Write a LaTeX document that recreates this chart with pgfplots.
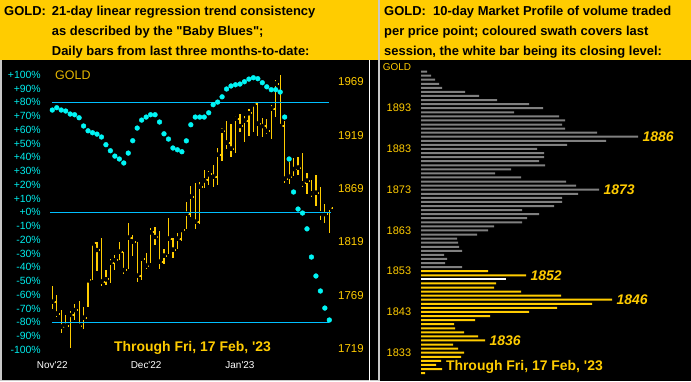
\documentclass[border=0pt]{standalone}
\usepackage{pgfplots}
\pgfplotsset{compat=1.18}
\usepackage{pgfplotstable}
\usepackage{fontspec}
\setmainfont{Liberation Sans}[Ligatures=TeXOff]
\definecolor{hdr}{RGB}{255,204,0}
\definecolor{gold}{RGB}{255,204,0}
\definecolor{goldtxt}{RGB}{230,184,0}
\definecolor{dotc}{RGB}{0,245,245}
\definecolor{linec}{RGB}{0,191,255}
\definecolor{tickc}{RGB}{0,235,235}
\definecolor{mpgray}{RGB}{128,128,128}
\definecolor{frame}{RGB}{200,200,200}
\newcommand{\fs}[1]{\fontsize{#1}{#1}\selectfont}

\pgfplotstableread{
i H L C P
0 1777.7 1756.5 1763.0 74.4
1 1769.3 1749.0 1751.8 76.1
2 1755.2 1734.0 1739.6 74.4
3 1750.6 1738.1 1740.5 73.7
4 1754.3 1719.3 1750.6 71.5
5 1760.9 1745.9 1755.2 71.0
6 1763.7 1739.3 1740.5 68.8
7 1758.1 1737.7 1748.0 62.8
8 1784.3 1758.3 1783.1 59.3
9 1817.8 1783.1 1817.8 57.9
10 1819.3 1792.1 1811.5 56.9
11 1822.5 1778.0 1781.8 54.8
12 1792.7 1778.7 1784.0 49.2
13 1803.1 1780.8 1799.6 44.8
14 1806.8 1792.7 1801.8 40.9
15 1819.0 1802.1 1809.9 38.8
16 1809.9 1789.3 1792.7 35.9
17 1837.1 1793.4 1823.0 43.1
18 1825.6 1805.9 1819.3 52.1
19 1819.3 1781.8 1787.4 61.3
20 1803.7 1783.4 1803.3 67.1
21 1808.4 1793.4 1796.8 69.3
22 1831.8 1799.0 1828.1 71.0
23 1833.3 1816.2 1823.7 71.0
24 1829.3 1793.4 1800.5 65.7
25 1812.2 1798.4 1806.2 57.1
26 1841.2 1807.7 1822.1 53.3
27 1822.5 1804.3 1811.8 46.8
28 1827.2 1812.2 1822.1 45.5
29 1831.8 1819.9 1830.2 44.1
30 1856.2 1830.9 1845.5 52.0
31 1871.5 1842.7 1861.5 63.7
32 1874.6 1830.9 1838.0 69.3
33 1875.2 1835.6 1870.8 69.3
34 1886.5 1869.3 1876.8 69.3
35 1885.3 1872.7 1882.5 72.4
36 1891.2 1870.8 1880.2 78.3
37 1907.1 1872.7 1900.8 80.2
38 1925.9 1895.2 1923.3 84.0
39 1932.4 1906.5 1912.1 89.7
40 1929.6 1899.0 1906.5 91.9
41 1937.4 1902.7 1934.6 92.8
42 1939.0 1922.4 1927.7 93.3
43 1937.1 1913.0 1932.7 95.0
44 1943.7 1918.7 1939.7 96.9
45 1950.0 1921.8 1948.1 97.9
46 1950.0 1918.4 1929.9 97.2
47 1935.5 1917.2 1927.7 94.3
48 1934.3 1920.3 1923.1 91.3
49 1947.4 1915.6 1944.0 89.2
50 1970.9 1936.5 1967.4 89.2
51 1975.6 1926.2 1927.7 87.5
52 1932.2 1874.6 1878.3 69.3
53 1894.3 1873.8 1880.2 38.8
54 1898.0 1881.2 1887.4 14.8
55 1899.0 1881.8 1888.7 2.4
56 1902.2 1870.8 1874.0 -0.5
57 1883.4 1864.0 1876.5 -12.0
58 1877.1 1861.5 1864.7 -32.5
59 1881.8 1853.0 1865.2 -46.3
60 1870.3 1839.6 1845.9 -57.2
61 1854.6 1836.8 1845.2 -69.6
62 1851.5 1827.7 1851.2 -78.3
}\ohlc

\pgfplotstableread{
price vol
1902 6
1901 10
1900 14
1899 18
1898 21
1897 44
1896 58
1895 76
1894 108
1893 122
1892 93
1891 138
1890 144
1889 141
1888 144
1887 176
1886 217
1885 185
1884 146
1883 116
1882 123
1881 123
1880 118
1879 124
1878 90
1877 74
1876 100
1875 145
1874 155
1873 178
1872 157
1871 141
1870 141
1869 133
1868 101
1867 118
1866 106
1865 101
1864 73
1863 67
1862 56
1861 36
1860 37
1859 38
1858 41
1857 23
1856 26
1855 24
1854 41
}\mpg

\pgfplotstableread{
price vol
1853 67
1852 105
1850 75
1849 73
1848 100
1847 140
1846 191
1845 171
1844 136
1843 108
1842 69
1841 54
1840 33
1839 34
1838 43
1837 57
1836 64
1835 32
1834 37
1833 43
1832 40
1831 20
1830 15
1829 21
1828 4
}\mpy

\pgfplotstableread{
price vol
1851 85
}\mpw

\begin{document}
\begin{tikzpicture}[x=1bp,y=1bp]
% backgrounds
\fill[hdr] (0,0) rectangle (691,381);
\fill[black] (0,0) rectangle (378,321);
\fill[black] (380,0) rectangle (691,321);
\fill[frame] (377.5,0) rectangle (380,381);
\draw[frame, line width=1.5bp] (0.75,321) -- (0.75,0.75) -- (377.5,0.75);
\draw[white, line width=1.2bp] (369.5,0) -- (369.5,321);

% headers
\begin{scope}[every node/.style={anchor=base west, inner sep=0pt, font=\fs{13}\bfseries}]
\node at (4,366) {GOLD:};
\node at (51.7,366) {21-day linear regression trend consistency};
\node at (51.7,346) {as described by the "Baby Blues";};
\node at (51.7,326) {Daily bars from last three months-to-date:};
\node at (384,366) {GOLD:\ \ 10-day Market Profile of volume traded};
\node at (384,346) {per price point; coloured swath covers last};
\node at (384,326) {session, the white bar being its closing level:};
\end{scope}

% left chart: price bars
\begin{axis}[at={(44bp,24bp)}, anchor=south west, scale only axis,
  width=291bp, height=297bp,
  xmin=-1.858, xmax=63.27, ymin=1711.2, ymax=1989.6,
  axis x line*=bottom, axis y line*=right,
  axis line style={draw=none}, major tick length=0pt,
  xtick={0,21,42}, xticklabels={Nov'22,Dec'22,Jan'23},
  xticklabel style={text=white, font=\fs{10}, anchor=north, inner sep=0pt, yshift=-4bp},
  ytick={1719,1769,1819,1869,1919,1969},
  yticklabels={1719,1769,1819,1869,1919,1969},
  yticklabel style={text=gold, font=\fs{11.5}, anchor=west, inner sep=0pt, xshift=3bp},
  clip=false]
\addplot[only marks, mark=none, error bars/.cd, y dir=both, y explicit,
  error mark=none, error bar style={draw=gold, line width=1.2bp}]
  table[x=i, y=C, y error plus expr=\thisrow{H}-\thisrow{C}, y error minus expr=\thisrow{C}-\thisrow{L}] {\ohlc};
\addplot[only marks, mark=none, error bars/.cd, x dir=plus, x fixed=0.75,
  error mark=none, error bar style={draw=gold, line width=2bp}]
  table[x=i, y=C] {\ohlc};
\end{axis}

% left chart: percent axis
\begin{axis}[at={(44bp,24bp)}, anchor=south west, scale only axis,
  width=291bp, height=297bp,
  xmin=-1.858, xmax=63.27, ymin=-105.2, ymax=110.8,
  axis y line*=left, axis x line=none,
  axis line style={draw=none}, major tick length=0pt,
  ytick={-100,-90,-80,-70,-60,-50,-40,-30,-20,-10,0,10,20,30,40,50,60,70,80,90,100},
  yticklabels={-100\%,-90\%,-80\%,-70\%,-60\%,-50\%,-40\%,-30\%,-20\%,-10\%,+0\%,+10\%,+20\%,+30\%,+40\%,+50\%,+60\%,+70\%,+80\%,+90\%,+100\%},
  yticklabel style={text=tickc, font=\fs{10.5}, anchor=east, inner sep=0pt, xshift=-3bp},
  clip=false]
\addplot[linec, line width=1.2bp] coordinates {(-0.1,80) (62,80)};
\addplot[linec, line width=1.2bp] coordinates {(-0.5,0) (62.4,0)};
\addplot[linec, line width=1.2bp] coordinates {(-0.1,-80) (62,-80)};
\addplot[only marks, mark=*, mark size=2.4bp, color=dotc, mark options={draw=dotc, fill=dotc}] table[x=i, y=P] {\ohlc};
\end{axis}

\node[anchor=west, inner sep=0pt, text=goldtxt, font=\fs{12.5}] at (55,305.3) {GOLD};
\node[inner sep=0pt, text=gold, font=\fs{14}\bfseries] at (192.5,33.3) {Through Fri, 17 Feb, '23};

% right chart: market profile
\begin{axis}[at={(421bp,0bp)}, anchor=south west, scale only axis,
  width=270bp, height=321bp,
  xmin=0, xmax=270, ymin=1826.06, ymax=1904.83,
  xbar, bar width=2bp,
  axis x line=none, axis y line*=left,
  axis line style={draw=none}, major tick length=0pt,
  ytick={1833,1843,1853,1863,1873,1883,1893},
  yticklabels={1833,1843,1853,1863,1873,1883,1893},
  yticklabel style={text=gold, font=\fs{11}, anchor=east, inner sep=0pt, xshift=-9.7bp},
  clip=false]
\addplot[fill=mpgray, draw=none, bar shift=0pt] table[x=vol, y=price] {\mpg};
\addplot[fill=gold, draw=none, bar shift=0pt] table[x=vol, y=price] {\mpy};
\addplot[fill=white, draw=none, bar shift=0pt] table[x=vol, y=price] {\mpw};
\node[anchor=west, inner sep=0pt, text=gold, font=\fs{14}\bfseries\itshape, xshift=4.5bp] at (axis cs:217,1886) {1886};
\node[anchor=west, inner sep=0pt, text=gold, font=\fs{14}\bfseries\itshape, xshift=4.5bp] at (axis cs:178,1873) {1873};
\node[anchor=west, inner sep=0pt, text=gold, font=\fs{14}\bfseries\itshape, xshift=4.5bp] at (axis cs:105,1852) {1852};
\node[anchor=west, inner sep=0pt, text=gold, font=\fs{14}\bfseries\itshape, xshift=4.5bp] at (axis cs:191,1846) {1846};
\node[anchor=west, inner sep=0pt, text=gold, font=\fs{14}\bfseries\itshape, xshift=4.5bp] at (axis cs:64,1836) {1836};
\end{axis}

\node[anchor=west, inner sep=0pt, text=gold, font=\fs{10}] at (382.7,313.7) {GOLD};
\node[inner sep=0pt, text=gold, font=\fs{14}\bfseries] at (524.4,13.7) {Through Fri, 17 Feb, '23};
\end{tikzpicture}
\end{document}
